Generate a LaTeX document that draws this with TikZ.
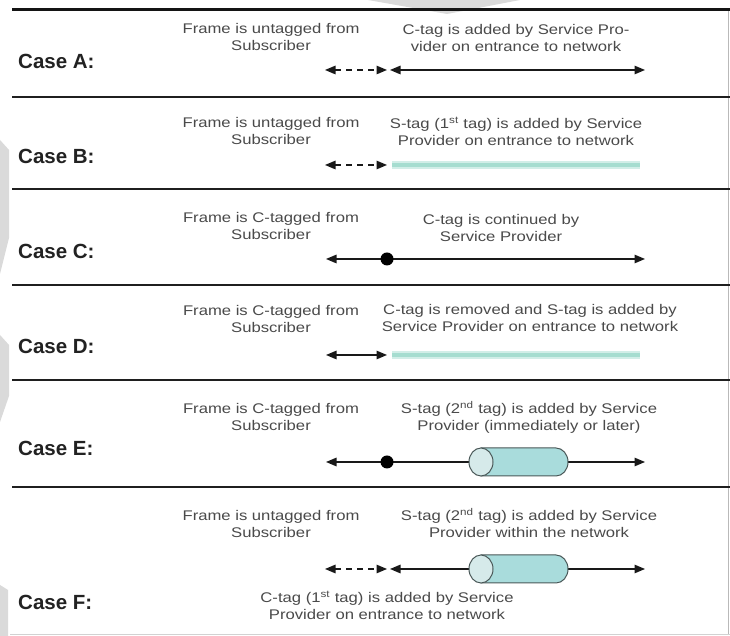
\documentclass[tikz,border=0pt]{standalone}
\usepackage{fontspec}
\setmainfont{Liberation Sans}[FakeStretch=1.19]
\newfontfamily\lblfont{Liberation Sans}
\usetikzlibrary{arrows.meta}
\definecolor{txt}{HTML}{4A4A4A}
\definecolor{lbl}{HTML}{222222}
\definecolor{mint}{HTML}{A6DDD0}
\definecolor{mintpale}{HTML}{D2EEE8}
\definecolor{cylbody}{HTML}{A9DCDC}
\definecolor{cylface}{HTML}{D6EAEA}
\definecolor{cylline}{HTML}{4A5858}
\definecolor{wmark}{HTML}{DADADA}
\begin{document}
\begin{tikzpicture}[x=1pt,y=1pt,
  rule/.style={line width=2pt, draw=black!88},
  toprule/.style={line width=3pt, draw=black!92},
  casetxt/.style={font=\fontsize{14}{17}\selectfont, text=txt, align=center, anchor=base, inner sep=0pt},
  caselbl/.style={font=\lblfont\bfseries\fontsize{20.5}{24}\selectfont, text=lbl, anchor=base west, inner sep=0pt},
  htip/.tip={Triangle[length=10.5pt,width=8.5pt]},
  solidarr/.style={line width=1.3pt, draw=black!90, {htip}-{htip}},
  dasharr/.style={line width=1.3pt, draw=black!90, dash pattern=on 6pt off 5pt, {htip}-{htip}},
  stagline/.style={line width=8pt, draw=mintpale},
  stagcore/.style={line width=4pt, draw=mint},
  tagdot/.style={circle, fill=black, inner sep=0pt, minimum size=13pt},
  tagcyl/.pic={
    \fill[cylbody, draw=cylline, line width=1pt] (-37.5,14) -- (37.5,14)
      arc[start angle=90, end angle=-90, x radius=12pt, y radius=14pt]
      -- (-37.5,-14) -- cycle;
    \draw[fill=cylface, draw=cylline, line width=1pt] (-37.5,0) ellipse[x radius=12pt, y radius=14pt];
  }
]
\useasboundingbox (0,0) rectangle (730,636);
\fill[white] (0,0) rectangle (730,636);
% faint watermark shapes
\fill[wmark] (368,636) -- (520,636) -- (447,622) -- cycle;
\fill[wmark] (0,496) -- (9,486) -- (9,398) -- (0,362) -- cycle;
\fill[wmark] (0,301) -- (9,291) -- (9,240) -- (0,214) -- cycle;
\fill[wmark] (0,51) -- (8,46) -- (8,0) -- (0,0) -- cycle;
% frame
\draw[gray!55, line width=1pt] (728,626) -- (728,1);
\draw[gray!35, line width=1.2pt] (10,1.5) -- (730,1.5);
% rules
\draw[toprule] (12,626) -- (730,626);
\draw[rule] (12,539) -- (730,539);
\draw[rule] (12,447) -- (730,447);
\draw[rule] (12,351) -- (730,351);
\draw[rule] (12,256) -- (730,256);
\draw[rule] (12,149) -- (730,149);

% ---------- Case A
\node[caselbl] (lblA) at (18,567.5) {Case A:};
\node[casetxt] (subA) at (271,585) {Frame is untagged from\\Subscriber};
\node[casetxt] (spA) at (516,584) {C-tag is added by Service Pro-\\vider on entrance to network};
\coordinate (aL) at (325,566);
\coordinate (aM) at (387,566);
\coordinate (aN) at (390,566);
\coordinate (aR) at (645,566);
\draw[dasharr] (aL) -- (aM);
\draw[solidarr] (aN) -- (aR);

% ---------- Case B
\node[caselbl] (lblB) at (18,472) {Case B:};
\node[casetxt] (subB) at (271,491) {Frame is untagged from\\Subscriber};
\node[casetxt] (spB) at (516,490) {S-tag (1\textsuperscript{st} tag) is added by Service\\Provider on entrance to network};
\coordinate (bL) at (325,471);
\coordinate (bM) at (387,471);
\coordinate (bN) at (392,471);
\coordinate (bR) at (640,471);
\draw[dasharr] (bL) -- (bM);
\draw[stagline] (bN) -- (bR);
\draw[stagcore] (bN) -- (bR);

% ---------- Case C
\node[caselbl] (lblC) at (18,377) {Case C:};
\node[casetxt] (subC) at (271,396) {Frame is C-tagged from\\Subscriber};
\node[casetxt] (spC) at (501,394) {C-tag is continued by\\Service Provider};
\coordinate (cL) at (326,377);
\coordinate (cR) at (645,377);
\draw[solidarr] (cL) -- (cR);
\node[tagdot] (dotC) at (387,377) {};

% ---------- Case D
\node[caselbl] (lblD) at (18,282) {Case D:};
\node[casetxt] (subD) at (271,303) {Frame is C-tagged from\\Subscriber};
\node[casetxt] (spD) at (530,304) {C-tag is removed and S-tag is added by\\Service Provider on entrance to network};
\coordinate (dL) at (326,281);
\coordinate (dM) at (387,281);
\coordinate (dN) at (392,281);
\coordinate (dR) at (640,281);
\draw[solidarr] (dL) -- (dM);
\draw[stagline] (dN) -- (dR);
\draw[stagcore] (dN) -- (dR);

% ---------- Case E
\node[caselbl] (lblE) at (18,180) {Case E:};
\node[casetxt] (subE) at (271,205) {Frame is C-tagged from\\Subscriber};
\node[casetxt] (spE) at (529,205) {S-tag (2\textsuperscript{nd} tag) is added by Service\\Provider (immediately or later)};
\coordinate (eL) at (326,174);
\coordinate (eR) at (645,174);
\draw[solidarr] (eL) -- (eR);
\node[tagdot] (dotE) at (387,174) {};
\pic (cylE) at (518.5,174) {tagcyl};

% ---------- Case F
\node[caselbl] (lblF) at (18,26) {Case F:};
\node[casetxt] (subF) at (271,98) {Frame is untagged from\\Subscriber};
\node[casetxt] (spF) at (529,98) {S-tag (2\textsuperscript{nd} tag) is added by Service\\Provider within the network};
\node[casetxt] (ctF) at (387,16) {C-tag (1\textsuperscript{st} tag) is added by Service\\Provider on entrance to network};
\coordinate (fL) at (325,67);
\coordinate (fM) at (387,67);
\coordinate (fN) at (390,67);
\coordinate (fR) at (645,67);
\draw[dasharr] (fL) -- (fM);
\draw[solidarr] (fN) -- (fR);
\pic (cylF) at (518.5,67) {tagcyl};
\end{tikzpicture}
\end{document}
